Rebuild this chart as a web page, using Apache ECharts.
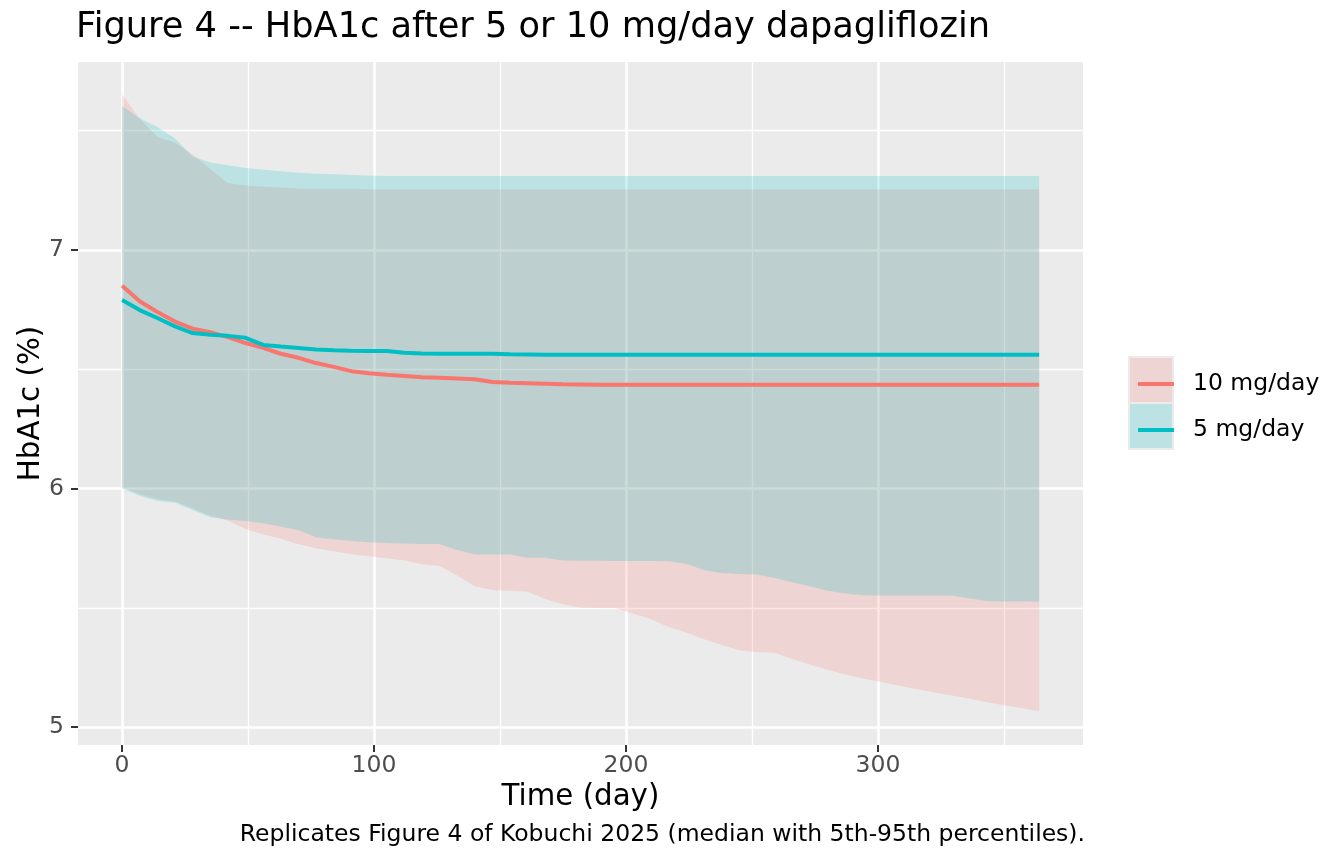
<!DOCTYPE html>
<html>
<head>
<meta charset="utf-8">
<script src="https://cdn.jsdelivr.net/npm/echarts@6/dist/echarts.min.js"></script>
<style>
  html, body { margin: 0; padding: 0; background: #fff; }
  #main { width: 1344px; height: 864px; }
</style>
</head>
<body>
<div id="main"></div>
<script>
var days = [0, 7, 14, 21, 28, 35, 42, 49, 56, 63, 70, 77, 84, 91, 98, 105, 112, 119, 126, 133,
  140, 147, 154, 161, 168, 175, 182, 189, 196, 203, 210, 217, 224, 231, 238, 245, 252, 259,
  266, 273, 280, 287, 294, 301, 308, 315, 322, 329, 336, 343, 350, 357, 364];

// 10 mg/day: median, 5th and 95th percentiles
var med10 = [6.850, 6.785, 6.740, 6.700, 6.670, 6.655, 6.635, 6.610, 6.590, 6.565, 6.548, 6.526,
  6.510, 6.492, 6.483, 6.477, 6.472, 6.467, 6.464, 6.461, 6.458, 6.447, 6.443, 6.441, 6.439,
  6.437, 6.436, 6.435, 6.435, 6.435, 6.435, 6.435, 6.435, 6.435, 6.435, 6.435, 6.435, 6.435,
  6.435, 6.435, 6.435, 6.435, 6.435, 6.435, 6.435, 6.435, 6.435, 6.435, 6.435, 6.435, 6.435,
  6.435, 6.435];
var lo10 = [6.005, 5.977, 5.955, 5.946, 5.917, 5.887, 5.865, 5.830, 5.808, 5.790, 5.767, 5.750,
  5.737, 5.725, 5.716, 5.708, 5.699, 5.683, 5.675, 5.635, 5.590, 5.575, 5.572, 5.567, 5.537,
  5.515, 5.500, 5.499, 5.498, 5.475, 5.452, 5.420, 5.397, 5.368, 5.344, 5.322, 5.315, 5.312,
  5.285, 5.262, 5.240, 5.220, 5.204, 5.190, 5.174, 5.160, 5.146, 5.134, 5.120, 5.105, 5.092,
  5.080, 5.066];
var hi10 = [7.652, 7.550, 7.474, 7.450, 7.400, 7.340, 7.280, 7.270, 7.265, 7.262, 7.258, 7.257,
  7.256, 7.256, 7.255, 7.255, 7.255, 7.255, 7.255, 7.255, 7.255, 7.255, 7.255, 7.255, 7.255,
  7.255, 7.255, 7.255, 7.255, 7.255, 7.255, 7.255, 7.255, 7.255, 7.255, 7.255, 7.255, 7.255,
  7.255, 7.255, 7.255, 7.255, 7.255, 7.255, 7.255, 7.255, 7.255, 7.255, 7.255, 7.255, 7.255,
  7.255, 7.255];

// 5 mg/day
var med5 = [6.790, 6.748, 6.715, 6.680, 6.652, 6.645, 6.640, 6.632, 6.602, 6.595, 6.589, 6.583,
  6.580, 6.578, 6.577, 6.577, 6.569, 6.566, 6.565, 6.565, 6.565, 6.565, 6.563, 6.562, 6.561,
  6.561, 6.561, 6.561, 6.561, 6.561, 6.561, 6.561, 6.561, 6.561, 6.561, 6.561, 6.561, 6.561,
  6.561, 6.561, 6.561, 6.561, 6.561, 6.561, 6.561, 6.561, 6.561, 6.561, 6.561, 6.561, 6.561,
  6.561, 6.561];
var lo5 = [6.000, 5.970, 5.948, 5.940, 5.910, 5.880, 5.870, 5.864, 5.855, 5.840, 5.826, 5.796,
  5.787, 5.780, 5.775, 5.772, 5.770, 5.768, 5.768, 5.742, 5.724, 5.724, 5.724, 5.710, 5.710,
  5.698, 5.697, 5.697, 5.696, 5.696, 5.696, 5.695, 5.685, 5.657, 5.646, 5.642, 5.640, 5.625,
  5.607, 5.590, 5.572, 5.560, 5.553, 5.552, 5.552, 5.552, 5.552, 5.552, 5.540, 5.529, 5.527,
  5.526, 5.525];
var hi5 = [7.604, 7.552, 7.516, 7.467, 7.392, 7.367, 7.355, 7.344, 7.336, 7.330, 7.324, 7.320,
  7.317, 7.314, 7.312, 7.310, 7.310, 7.310, 7.310, 7.310, 7.310, 7.310, 7.310, 7.310, 7.310,
  7.310, 7.310, 7.310, 7.310, 7.310, 7.310, 7.310, 7.310, 7.310, 7.310, 7.310, 7.310, 7.310,
  7.310, 7.310, 7.310, 7.310, 7.310, 7.310, 7.310, 7.310, 7.310, 7.310, 7.310, 7.310, 7.310,
  7.310, 7.310];

var xTicks = [0, 100, 200, 300];
var xMinor = [50, 150, 250, 350];
var yTicks = [5, 6, 7];
var yMinor = [5.5, 6.5, 7.5];

var RED = '#F8766D';
var TEAL = '#00BFC4';
var FONT = 'DejaVu Sans';

function pairs(ys) {
  return days.map(function (d, i) { return [d, ys[i]]; });
}

// ribbon between lo and hi, drawn as one polygon through the axis scales
function ribbon(name, lo, hi, color) {
  return {
    name: name, type: 'custom', silent: true, z: 2,
    data: [[days[0], lo[0]]],
    renderItem: function (params, api) {
      var pts = [];
      for (var i = 0; i < days.length; i++) pts.push(api.coord([days[i], hi[i]]));
      for (var j = days.length - 1; j >= 0; j--) pts.push(api.coord([days[j], lo[j]]));
      return {
        type: 'polygon',
        shape: { points: pts },
        style: { fill: color, opacity: 0.2 }
      };
    }
  };
}

var myChart = echarts.init(document.getElementById('main'), null, { renderer: 'canvas' });

var xBase = { type: 'value', min: -17.5, max: 381.4, gridIndex: 0 };
var yBase = { type: 'value', min: 4.925, max: 7.788, gridIndex: 0 };

option = {
  animation: false,
  textStyle: { fontFamily: FONT },
  title: [
    {
      text: 'Figure 4 -- HbA1c after 5 or 10 mg/day dapagliflozin',
      left: 76, top: 10, padding: 0,
      textStyle: { fontFamily: FONT, fontSize: 35.2, fontWeight: 'normal', color: '#000' }
    },
    {
      text: 'Replicates Figure 4 of Kobuchi 2025 (median with 5th-95th percentiles).',
      right: 259, top: 823, padding: 0,
      textStyle: { fontFamily: FONT, fontSize: 23.5, fontWeight: 'normal', color: '#000' }
    }
  ],
  grid: {
    left: 78, right: 261, top: 62, bottom: 119,
    show: true, backgroundColor: '#EBEBEB', borderWidth: 0
  },
  legend: {
    data: ['10 mg/day', '5 mg/day'],
    orient: 'vertical',
    left: 1133, top: 367,
    icon: 'rect',
    itemWidth: 36, itemHeight: 4,
    itemGap: 22,
    selectedMode: false,
    textStyle: { fontFamily: FONT, fontSize: 23.5, color: '#000', lineHeight: 24, padding: [0, 0, 0, 14] }
  },
  graphic: [
    { type: 'rect', shape: { x: 1128, y: 356, width: 46, height: 94 }, style: { fill: '#EBEBEB' }, z: 0 },
    { type: 'rect', shape: { x: 1130, y: 358, width: 42, height: 44 }, style: { fill: 'rgba(248,118,109,0.2)' }, z: 1 },
    { type: 'rect', shape: { x: 1130, y: 404, width: 42, height: 44 }, style: { fill: 'rgba(0,191,196,0.2)' }, z: 1 }
  ],
  xAxis: [
    Object.assign({}, xBase, {
      name: 'Time (day)',
      nameLocation: 'middle',
      nameGap: 38,
      nameMoveOverlap: false,
      nameTextStyle: { fontFamily: FONT, fontSize: 29.3, color: '#000' },
      axisLine: { show: false, onZero: false },
      axisTick: { show: true, length: 7, customValues: xTicks, lineStyle: { color: '#333', width: 2 } },
      axisLabel: { customValues: xTicks, margin: 9, fontFamily: FONT, fontSize: 23.5, color: '#4D4D4D' },
      splitLine: { show: true, lineStyle: { color: '#fff', width: 2.6 } }
    }),
    Object.assign({}, xBase, {
      axisLine: { show: false, onZero: false },
      axisTick: { show: false, customValues: xMinor },
      axisLabel: { show: false },
      splitLine: { show: true, lineStyle: { color: '#fff', width: 1.3 } }
    })
  ],
  yAxis: [
    Object.assign({}, yBase, {
      name: 'HbA1c (%)',
      nameLocation: 'middle',
      nameGap: 32,
      nameMoveOverlap: false,
      nameTextStyle: { fontFamily: FONT, fontSize: 29.3, color: '#000' },
      axisLine: { show: false, onZero: false },
      axisTick: { show: true, length: 7, customValues: yTicks, lineStyle: { color: '#333', width: 2 } },
      axisLabel: { customValues: yTicks, margin: 14, fontFamily: FONT, fontSize: 23.5, color: '#4D4D4D' },
      splitLine: { show: true, lineStyle: { color: '#fff', width: 2.6 } }
    }),
    Object.assign({}, yBase, {
      axisLine: { show: false, onZero: false },
      axisTick: { show: false, customValues: yMinor },
      axisLabel: { show: false },
      splitLine: { show: true, lineStyle: { color: '#fff', width: 1.3 } }
    })
  ],
  series: [
    ribbon('band10', lo10, hi10, RED),
    ribbon('band5', lo5, hi5, TEAL),
    {
      name: '10 mg/day', type: 'line', data: pairs(med10),
      showSymbol: false, itemStyle: { color: RED },
      lineStyle: { color: RED, width: 4 }, z: 3
    },
    {
      name: '5 mg/day', type: 'line', data: pairs(med5),
      showSymbol: false, itemStyle: { color: TEAL },
      lineStyle: { color: TEAL, width: 4 }, z: 3
    }
  ]
};

myChart.setOption(option);
</script>
</body>
</html>
